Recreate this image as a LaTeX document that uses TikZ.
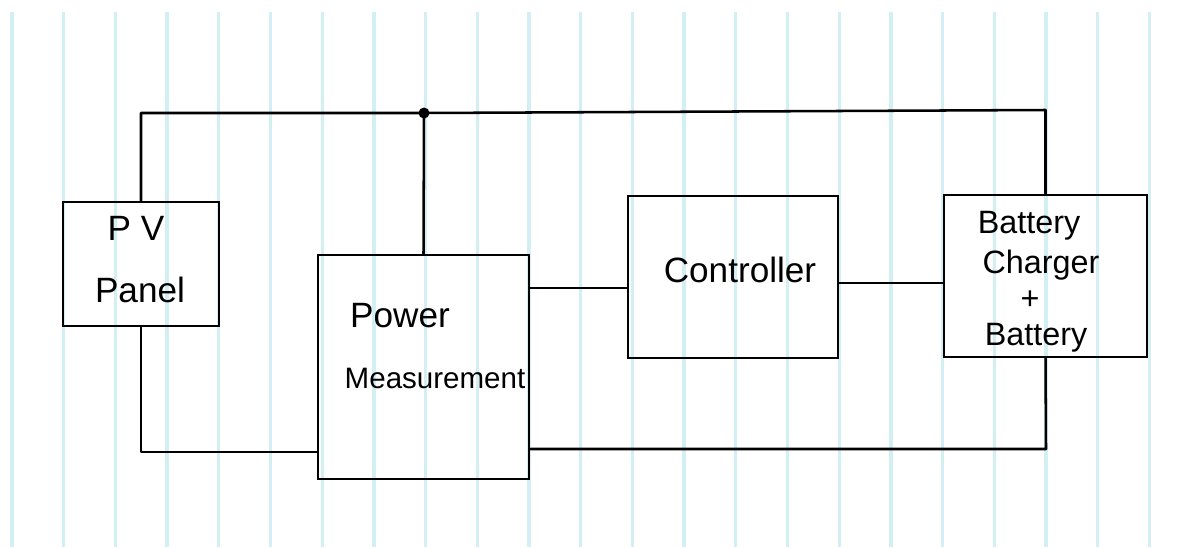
\documentclass[tikz,border=0pt]{standalone}
\usepackage{fontspec}
\setmainfont{Liberation Sans}
\definecolor{paperline}{RGB}{210,240,244}
\tikzset{
  box/.style={draw=black, line width=1.8pt, rectangle, inner sep=0pt},
  wire/.style={draw=black, line width=1.8pt, line cap=round, line join=round},
  lbl/.style={inner sep=0pt, font=\fontsize{25}{30}\selectfont},
  lblbatt/.style={inner sep=0pt, font=\fontsize{23}{27}\selectfont},
  lblsmall/.style={inner sep=0pt, font=\fontsize{21}{25}\selectfont},
  paper/.style={draw=paperline, line width=2.4pt}
}
\begin{document}
\begin{tikzpicture}[x=0.025cm,y=-0.025cm]
\fill[white] (0,0) rectangle (1189,547);
\useasboundingbox (0,0) rectangle (1189,547);
\foreach \k in {0,...,22}
  \draw[paper] ({12+51.7*\k},12) -- ({12+51.7*\k},547);

% blocks
\node[box, minimum width=3.9cm, minimum height=3.1cm] (pv) at (141,264) {};
\node[box, minimum width=5.275cm, minimum height=5.6cm] (pm) at (423.5,367) {};
\node[box, minimum width=5.25cm, minimum height=4.05cm] (ctrl) at (733,277) {};
\node[box, minimum width=5.075cm, minimum height=4.05cm] (batt) at (1045.5,276) {};

% labels
\node[lbl] (tpv) at (136,228) {P V};
\node[lbl] (tpanel) at (140,290) {Panel};
\node[lbl] (tpower) at (400,316) {Power};
\node[lblsmall] (tmeas) at (435,378) {Measurement};
\node[lbl] (tctrl) at (740,270) {Controller};
\node[lblbatt] (tb1) at (1029,226) {Battery};
\node[lblbatt] (tb2) at (1041,265) {Charger};
\node[lblbatt] (tb3) at (1030,300) {+};
\node[lblbatt] (tb4) at (1036,338) {Battery};

% junction and corners
\coordinate (jn) at (424,113);
\coordinate (tl) at (141,113);
\coordinate (tr) at (1045.5,110);
\coordinate (bl) at (141,452);
\coordinate (br) at (1046,449);

% wires
\draw[wire] (pv.north) -- (tl) -- (jn) -- (tr) -- (batt.north);
\draw[wire] (jn) -- (pm.north);
\fill (jn) circle (5.5);
\draw[wire] (pv.south) -- (bl) -- (pm.west |- bl);
\draw[wire] (pm.east |- 0,288) -- (ctrl.west |- 0,288);
\draw[wire] (ctrl.east |- 0,283) -- (batt.west |- 0,283);
\draw[wire] (pm.east |- br) -- (br) -- (batt.south);
\end{tikzpicture}
\end{document}
